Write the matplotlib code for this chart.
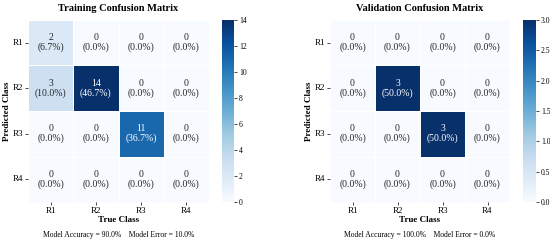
import matplotlib
matplotlib.use('Agg')
import matplotlib.pyplot as plt
import seaborn as sns
import numpy as np

plt.rcParams['font.family'] = ['Liberation Serif', 'DejaVu Serif']

classes = ['R1', 'R2', 'R3', 'R4']
train_cm = np.array([[2, 0, 0, 0],
                     [3, 14, 0, 0],
                     [0, 0, 11, 0],
                     [0, 0, 0, 0]])
val_cm = np.array([[0, 0, 0, 0],
                   [0, 3, 0, 0],
                   [0, 0, 3, 0],
                   [0, 0, 0, 0]])
train_acc = 90.0
val_acc = 100.0

W, H = 550, 243
fig = plt.figure(figsize=(W / 100, H / 100), dpi=100)


def px_box(x0, y0, x1, y1):
    return [x0 / W, 1 - y1 / H, (x1 - x0) / W, (y1 - y0) / H]


def draw(cm, title, acc, ax_box, cb_box, text_x):
    ax = fig.add_axes(px_box(*ax_box))
    cax = fig.add_axes(px_box(*cb_box))
    total = cm.sum()
    annot = np.array([[f"{v}\n({100 * v / total:.1f}%)" for v in row] for row in cm])
    sns.heatmap(cm, ax=ax, cbar_ax=cax, cmap='Blues', annot=annot, fmt='',
                linewidths=0.5, linecolor='white',
                annot_kws={'fontsize': 7, 'linespacing': 1.0},
                xticklabels=classes, yticklabels=classes)
    ax.set_title(title, fontsize=7.5, fontweight='bold', pad=6.5)
    ax.set_xlabel('True Class', fontsize=6.5, fontweight='bold', labelpad=1)
    ax.set_ylabel('Predicted Class', fontsize=6.5, fontweight='bold', labelpad=1)
    ax.tick_params(labelsize=6.5, length=2, width=0.5, pad=1.5)
    ax.tick_params(axis='y', rotation=0)
    cax.tick_params(labelsize=5.5, length=2, width=0.5, pad=1.5)
    for s in cax.spines.values():
        s.set_visible(False)
    fig.text(text_x / W, 1 - 235 / H,
             f"Model Accuracy = {acc:.1f}%    Model Error = {100 - acc:.1f}%",
             ha='center', va='center', fontsize=5.5)


draw(train_cm, 'Training Confusion Matrix', train_acc,
     (28, 20, 209, 202), (222, 20, 234, 202), 119)
draw(val_cm, 'Validation Confusion Matrix', val_acc,
     (330, 20, 510, 202), (523, 20, 536, 202), 420)

fig.savefig('out.png', dpi=100)
